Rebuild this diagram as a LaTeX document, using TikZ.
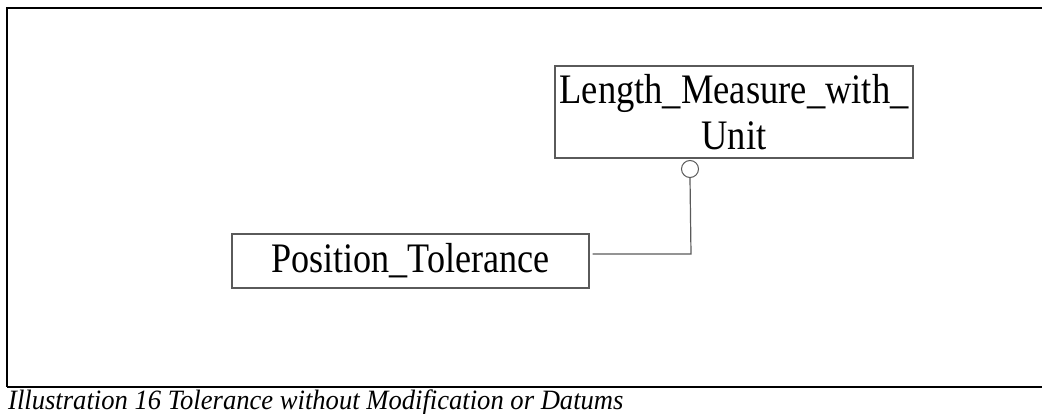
\documentclass[tikz,border=0pt]{standalone}
\usepackage{fontspec}
\setmainfont{Liberation Serif}
\usetikzlibrary{calc}
\definecolor{boxgray}{RGB}{90,90,90}
\tikzset{
  entity/.style={draw=boxgray, line width=1.2pt, inner sep=0pt, align=center,
    font=\fontsize{42}{45}\selectfont},
  conn/.style={draw=boxgray, line width=1.2pt},
  frameline/.style={draw=black, line width=1.3pt},
}
\begin{document}
\begin{tikzpicture}[x=1pt,y=-1pt]
\useasboundingbox (0,0) rectangle (1042,414);
% frame
\coordinate (fl) at (7,8);
\coordinate (fr) at (1042,8);
\coordinate (bl) at (7,387);
\coordinate (br) at (1042,387);
\draw[frameline] (fr) -- (fl) -- (bl);
\draw[frameline] (bl) -- (br);
% entities
\node[entity, minimum width=358pt, minimum height=92pt] (len) at (734,112)
  {\raisebox{2pt}{\scalebox{0.87}[1]{Length\_Measure\_with\_}}\\[-1pt]\scalebox{0.87}[1]{Unit}};
\node[entity, minimum width=357pt, minimum height=54pt] (pos) at (410.5,261)
  {\raisebox{-2pt}{\scalebox{0.86}[1]{Position\_Tolerance}}};
\node[circle, draw=boxgray, line width=1pt, minimum size=17pt, inner sep=0pt] (circ) at (690,169) {};
\coordinate (j) at (691,254);
\draw[conn] ([xshift=3pt]pos.east |- j) -- (j) -- (circ.south);
% caption
\node[anchor=base west, inner sep=0pt, font=\fontsize{28}{32}\selectfont\itshape] (cap) at (8,409)
  {\scalebox{0.95}[1]{Illustration 16 Tolerance without Modification or Datums}};
\end{tikzpicture}
\end{document}
